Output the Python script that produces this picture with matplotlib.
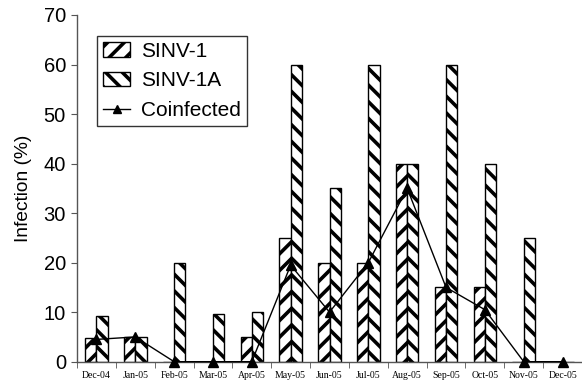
import matplotlib
matplotlib.use("Agg")
import matplotlib.pyplot as plt
import numpy as np

months = ["Dec-04", "Jan-05", "Feb-05", "Mar-05", "Apr-05", "May-05", "Jun-05",
          "Jul-05", "Aug-05", "Sep-05", "Oct-05", "Nov-05", "Dec-05"]
sinv1 = [4.7, 5, 0, 0, 5, 25, 20, 20, 40, 15, 15, 0, 0]
sinv1a = [9.2, 5, 20, 9.7, 10, 60, 35, 60, 40, 60, 40, 25, 0]
coinfected = [4.5, 5, 0, 0, 0, 19.5, 10, 20, 35, 15, 10.5, 0, 0]

plt.rcParams['hatch.linewidth'] = 2.6
plt.rcParams['font.family'] = ['Liberation Sans', 'DejaVu Sans']

fig = plt.figure(figsize=(5.82, 3.82), dpi=100)
ax = fig.add_axes([77/582, 1 - 361.7/382, 1 - 77/582, (361.7 - 15)/382])

x = np.arange(len(months))
w = 0.29
b1 = ax.bar(x - w/2, sinv1, w, facecolor='white', edgecolor='black', hatch='//', linewidth=1.0, label='SINV-1')
b2 = ax.bar(x + w/2, sinv1a, w, facecolor='white', edgecolor='black', hatch='\\\\', linewidth=1.0, label='SINV-1A')
ln, = ax.plot(x, coinfected, color='black', linewidth=1.0, marker='^', markersize=6.5, label='Coinfected', clip_on=False, zorder=5)

ax.set_xlim(-0.5, 12.35)
ax.set_ylim(0, 70)
ax.set_yticks(range(0, 71, 10))
ax.tick_params(axis='y', labelsize=14.5, length=4, color='#555555', pad=4)
ax.set_xticks(x)
ax.set_xticklabels(months, fontfamily='Liberation Serif', fontsize=7)
ax.set_xticks(np.arange(-0.5, 13, 1), minor=True)
ax.tick_params(axis='x', which='major', length=0, pad=7)
ax.tick_params(axis='x', which='minor', length=4, color='#555555')
for s in ['top', 'right']:
    ax.spines[s].set_visible(False)
for s in ['left', 'bottom']:
    ax.spines[s].set_color('#555555')
    ax.spines[s].set_linewidth(1.0)
ax.set_ylabel('Infection (%)', fontsize=13.8, labelpad=8)

leg = ax.legend([b1, b2, ln], ['SINV-1', 'SINV-1A', 'Coinfected'],
                loc='upper left', bbox_to_anchor=(20/505, 0.94), fontsize=15, frameon=True,
                fancybox=False, edgecolor='black', handlelength=1.3, handletextpad=0.5,
                borderpad=0.3, labelspacing=0.5, borderaxespad=0, markerscale=0.8)
leg.get_frame().set_linewidth(1.0)

fig.savefig('out.png', dpi=100)
